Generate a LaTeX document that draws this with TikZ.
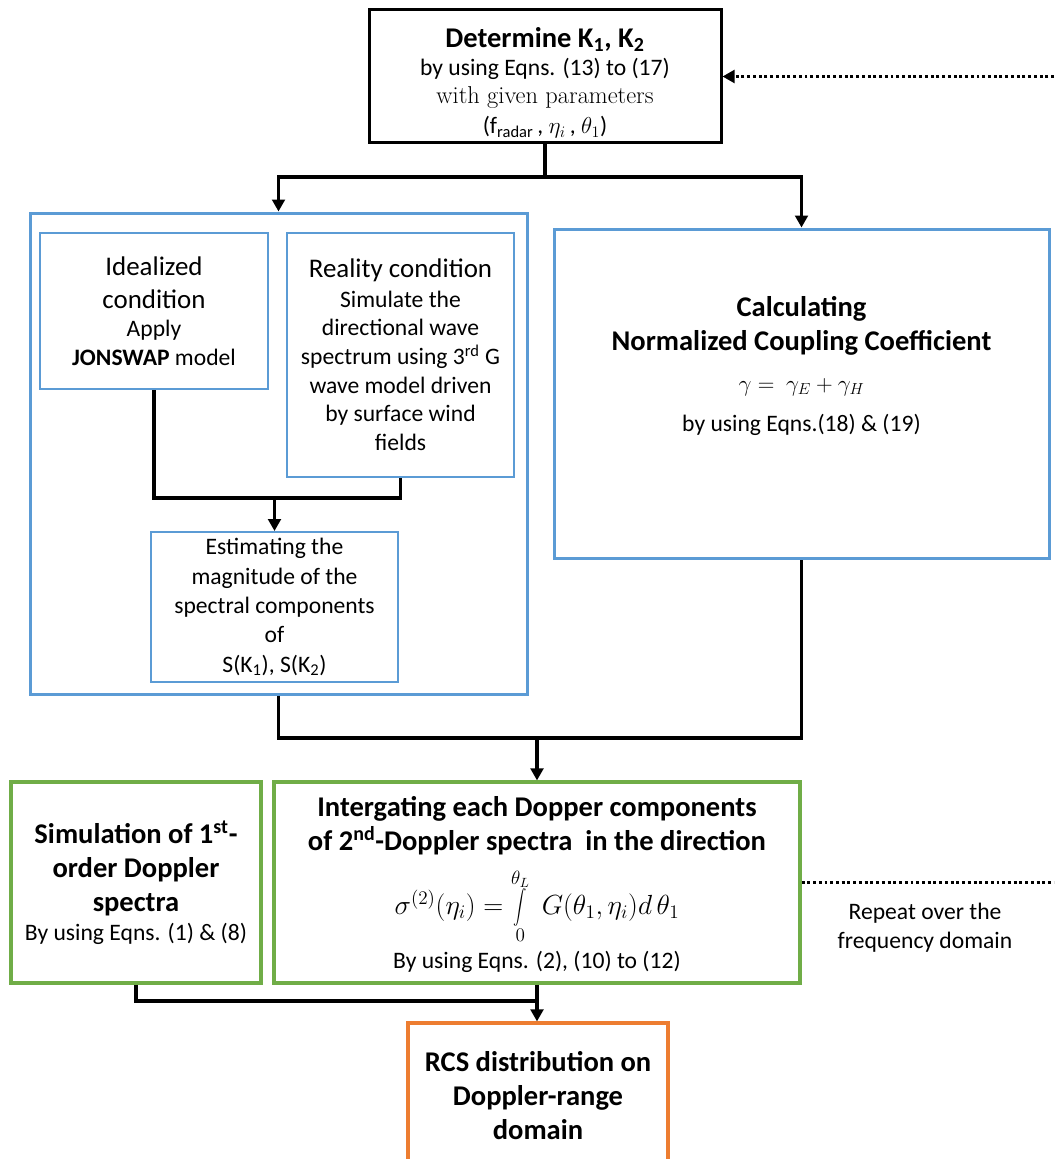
\documentclass[tikz,border=0pt]{standalone}
\usepackage{fontspec}
\usepackage{graphicx}
\setmainfont{Carlito}
\newfontfamily\serifr{Latin Modern Roman}
\usetikzlibrary{arrows.meta}
\definecolor{cblue}{HTML}{5B9BD5}
\definecolor{cgreen}{HTML}{70AD47}
\definecolor{corange}{HTML}{ED7D31}
\newcommand\bodyf{\fontsize{17.7}{21.5}\selectfont}
\newcommand\titlef{\fontsize{21.4}{25.5}\selectfont\bfseries}
\newcommand\bigf{\fontsize{20.2}{24.75}\selectfont}
\newcommand\mathf{\fontsize{19.5}{23}\selectfont}
\newcommand\tallint{\mathop{\vcenter{\hbox{\scalebox{1}[1.28]{$\displaystyle\int$}}}}}
\begin{document}
\begin{tikzpicture}[x=0.75pt,y=-0.75pt,
  conn/.style={draw=black, line width=2.4pt},
  arr/.style={conn, -{Triangle[length=9pt,width=9.5pt]}},
  dots/.style={draw=black, line width=2.4pt, dash pattern=on 2.2pt off 2.1pt},
  basebox/.style={rectangle, inner sep=0pt, align=center, font=\bodyf},
  blackbox/.style={basebox, draw=black, line width=2.25pt},
  bluebox/.style={basebox, draw=cblue, line width=2.25pt},
  bluein/.style={basebox, draw=cblue, line width=1.5pt},
  greenbox/.style={basebox, draw=cgreen, line width=2.4pt},
  orangebox/.style={basebox, draw=corange, line width=2.4pt},
  txt/.style={inner sep=0pt, align=center, font=\bodyf}]
\useasboundingbox (0,0) rectangle (1054,1159);
\clip (0,0) rectangle (1054,1159);

% top box
\node[blackbox, minimum width=0.75*352, minimum height=0.75*133] (top) at (545,76.5) {};
\node[txt] (toptxt) at (545,83)
 {{\titlef Determine K\textsubscript{1}, K\textsubscript{2}}\\[-1pt]
  by using Eqns. (13) to (17)\\
  {\serifr\fontsize{18.3}{21.5}\selectfont with given parameters}\\[1pt]
  (f\textsubscript{radar}\,, $\eta_i$\,, $\theta_1$)};

% left blue group
\node[bluebox, minimum width=0.75*497, minimum height=0.75*481] (bigblue) at (278.5,453.5) {};
\node[bluein, minimum width=0.75*228, minimum height=0.75*156] (ideal) at (154,311)
 {{\bigf Idealized}\\[3.2pt]{\bigf condition}\\Apply\\\textbf{JONSWAP} model};
\node[bluein, minimum width=0.75*227, minimum height=0.75*244] (real) at (400.5,355)
 {{\bigf Reality condition}\\[0.5pt]Simulate the\\directional wave\\spectrum using 3\textsuperscript{rd} G\\wave model driven\\by surface wind\\fields};
\node[bluein, minimum width=0.75*247, minimum height=0.75*150] (estim) at (274.5,607)
 {Estimating the\\[0.5pt]magnitude of the\\[0.5pt]spectral components\\[0.5pt]of\\[0.5pt]S(K\textsubscript{1}), S(K\textsubscript{2})};

% right blue box
\node[bluebox, minimum width=0.75*495, minimum height=0.75*329] (calc) at (801.5,393.5) {};
\node[txt] (calctxt) at (801.5,366)
 {{\titlef Calculating}\\[4pt]{\titlef Normalized Coupling Coefficient}\\[9pt]
  $\gamma =\ \gamma_E + \gamma_H$\\[9pt]
  by using Eqns.(18) \& (19)};

% green boxes
\node[greenbox, minimum width=0.75*250, minimum height=0.75*201] (greenL) at (136,882.5)
 {{\titlef Simulation of 1\textsuperscript{st}-}\\[4pt]{\titlef order Doppler}\\[4pt]{\titlef spectra}\\By using Eqns. (1) \& (8)};
\node[greenbox, minimum width=0.75*526, minimum height=0.75*201] (greenR) at (537,882.5) {};
\node[txt, font=\titlef] (gRtitle) at (537,826)
 {Intergating each Dopper components\\of 2\textsuperscript{nd}-Doppler spectra\ \ in the direction};
\node[txt, font=\mathf] (gRformula) at (537,906)
 {$\sigma^{(2)}(\eta_i) = \tallint\limits_0^{\theta_L}\; G(\theta_1,\eta_i)d\,\theta_1$};
\node[txt] (gRfoot) at (537,962) {By using Eqns. (2), (10) to (12)};

% orange box
\node[orangebox, minimum width=0.75*260, minimum height=0.75*177] (orange) at (538,1111.5) {};
\node[txt, font=\titlef] (orangetxt) at (538,1096)
 {RCS distribution on\\Doppler-range\\domain};

% repeat note
\node[txt] (repeat) at (925,928) {Repeat over the\\frequency domain};

% connectors
\coordinate (j1) at (545,177);
\draw[conn] (top.south) -- (j1);
\draw[arr] (j1) -| (bigblue);
\draw[arr] (j1) -| (calc);

\coordinate (j2) at (274.5,498);
\draw[conn] (ideal.south) |- (j2) -| (real.south);
\draw[arr] (j2) -- (estim.north);

\coordinate (j3) at (537,738);
\draw[conn] (bigblue.south) |- (j3) -| (calc.south);
\draw[arr] (j3) -- (greenR.north);

\coordinate (j4) at (537,1001);
\draw[conn] (greenL.south) |- (j4);
\draw[arr] (greenR.south) -- (greenR.south |- orange.north);

% dotted feedback
\coordinate (d1) at (1054,76.5);
\draw[dots, -{Triangle[length=9pt,width=9.5pt]}] (d1) -- (top.east);
\coordinate (d2) at (1054,882.5);
\draw[dots] (greenR.east) -- (d2);
\end{tikzpicture}
\end{document}
